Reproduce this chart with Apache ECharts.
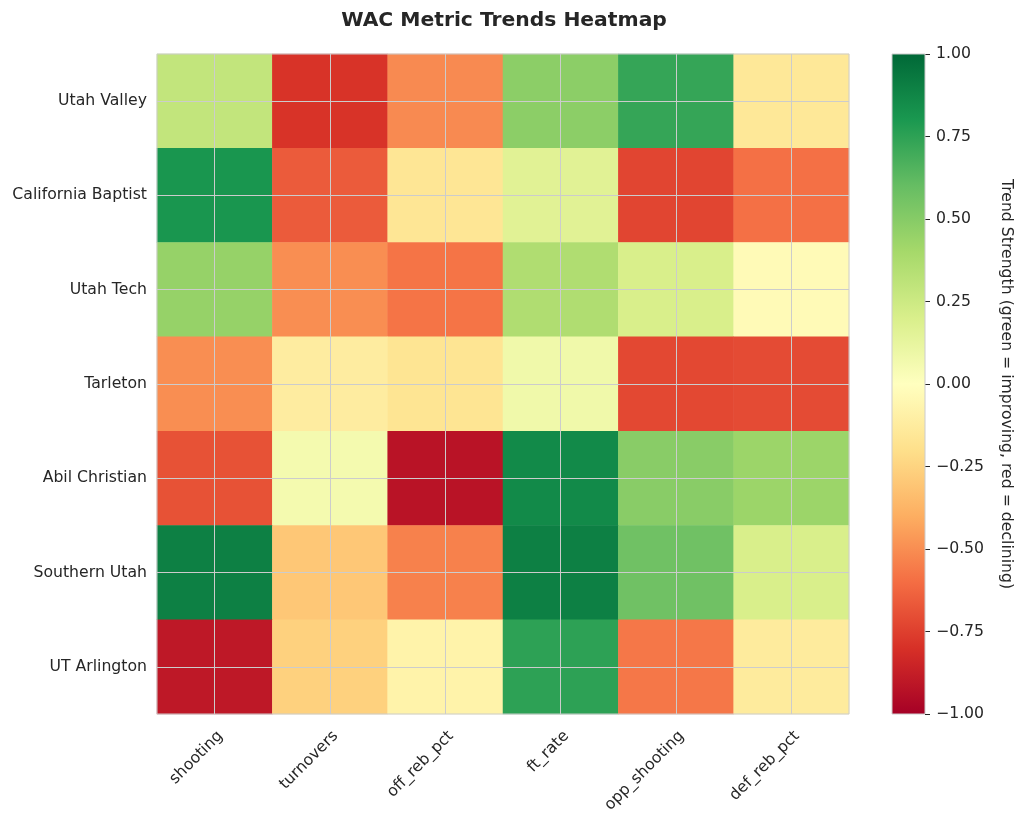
<!DOCTYPE html>
<html>
<head>
<meta charset="utf-8">
<script src="https://cdn.jsdelivr.net/npm/echarts@6/dist/echarts.min.js"></script>
<style>
html,body{margin:0;padding:0;background:#fff;}
#chart{width:1024px;height:822px;}
</style>
</head>
<body>
<div id="chart"></div>
<script>
// ---- data ----
const teams = ['Utah Valley', 'California Baptist', 'Utah Tech', 'Tarleton', 'Abil Christian', 'Southern Utah', 'UT Arlington'];
const metrics = ['shooting', 'turnovers', 'off_reb_pct', 'ft_rate', 'opp_shooting', 'def_reb_pct'];
const utahValley      = [0.29, -0.79, -0.51, 0.48, 0.73, -0.15];
const californiaBapt  = [0.81, -0.66, -0.16, 0.16, -0.73, -0.59];
const utahTech        = [0.45, -0.50, -0.58, 0.36, 0.20, -0.03];
const tarleton        = [-0.50, -0.12, -0.17, 0.08, -0.72, -0.71];
const abilChristian   = [-0.69, 0.06, -0.92, 0.86, 0.49, 0.43];
const southernUtah    = [0.90, -0.30, -0.54, 0.90, 0.57, 0.20];
const utArlington     = [-0.90, -0.26, -0.08, 0.75, -0.57, -0.13];
const rowValues = [utahValley, californiaBapt, utahTech, tarleton, abilChristian, southernUtah, utArlington];
const colorTicks = [-1, -0.75, -0.5, -0.25, 0, 0.25, 0.5, 0.75, 1];

// RdYlGn colormap control points (-1 .. 1)
const rdylgn = ['#a50026','#d73027','#f46d43','#fdae61','#fee08b','#ffffbf','#d9ef8b','#a6d96a','#66bd63','#1a9850','#006837'];

const heatData = [];
rowValues.forEach((row, r) => row.forEach((v, c) => heatData.push([c, r, v])));

const textColor = '#262626';
const font = 'DejaVu Sans';
const lineGrey = '#cccccc';
const tickFont = 15.7;

const chart = echarts.init(document.getElementById('chart'), null, {renderer: 'canvas'});

const gradStops = rdylgn.slice().reverse().map((c, i) => ({offset: i / 10, color: c}));

const option = {
  backgroundColor: '#ffffff',
  animation: false,
  textStyle: {fontFamily: font, color: textColor},
  title: {
    text: 'WAC Metric Trends Heatmap',
    left: 499, top: 6, textAlign: 'center',
    textStyle: {fontFamily: font, fontWeight: 'bold', fontSize: 20.3, color: textColor}
  },
  grid: [
    {left: 157, top: 54, width: 692, height: 660, show: true, z: 10,
     backgroundColor: 'transparent', borderColor: lineGrey, borderWidth: 1},
    {left: 892, top: 54, width: 33, height: 660}
  ],
  xAxis: [
    {
      type: 'category', data: metrics, gridIndex: 0,
      axisLine: {show: false},
      axisTick: {show: false},
      axisLabel: {rotate: 45, fontSize: tickFont, color: textColor, fontFamily: font,
                  margin: 14, interval: 0, align: 'right', verticalAlign: 'top'},
      splitLine: {show: false}
    },
    {
      type: 'category', data: ['cb'], gridIndex: 1, show: false
    }
  ],
  yAxis: [
    {
      type: 'category', data: teams, gridIndex: 0, inverse: true,
      axisLine: {show: false},
      axisTick: {show: false},
      axisLabel: {fontSize: tickFont, color: textColor, fontFamily: font, margin: 10},
      splitLine: {show: false}
    },
    {
      type: 'value', gridIndex: 1, position: 'right', min: -1, max: 1, interval: 0.25,
      axisLine: {show: false},
      axisTick: {show: true, length: 5, lineStyle: {color: textColor, width: 1}},
      axisLabel: {
        fontSize: tickFont, color: textColor, fontFamily: font, margin: 11,
        formatter: v => (v < 0 ? '\u2212' : '') + Math.abs(v).toFixed(2)
      },
      splitLine: {show: false},
      name: 'Trend Strength (green = improving, red = declining)',
      nameLocation: 'middle', nameRotate: -90, nameGap: 73,
      nameTextStyle: {fontSize: tickFont, color: textColor, fontFamily: font}
    }
  ],
  visualMap: {
    show: false, seriesIndex: 0, min: -1, max: 1,
    inRange: {color: rdylgn}
  },
  series: [
    {
      type: 'heatmap', xAxisIndex: 0, yAxisIndex: 0, data: heatData,
      itemStyle: {borderWidth: 0},
      emphasis: {disabled: true},
      markLine: {
        silent: true, symbol: ['none', 'none'],
        label: {show: false},
        lineStyle: {color: lineGrey, width: 1, type: 'solid', opacity: 1},
        data: metrics.map(m => ({xAxis: m})).concat(teams.map(t => ({yAxis: t})))
      }
    },
    {
      type: 'custom', xAxisIndex: 1, yAxisIndex: 1,
      data: [[0, -1, 1]],
      silent: true,
      renderItem: function (params, api) {
        const top = api.coord([api.value(0), api.value(2)]);
        const bot = api.coord([api.value(0), api.value(1)]);
        const w = api.size([1, 0])[0];
        return {
          type: 'rect',
          shape: {x: top[0] - w / 2, y: top[1], width: w, height: bot[1] - top[1]},
          style: {
            fill: new echarts.graphic.LinearGradient(0, 0, 0, 1, gradStops),
            stroke: lineGrey, lineWidth: 1
          }
        };
      }
    }
  ]
};
chart.setOption(option);
</script>
</body>
</html>
